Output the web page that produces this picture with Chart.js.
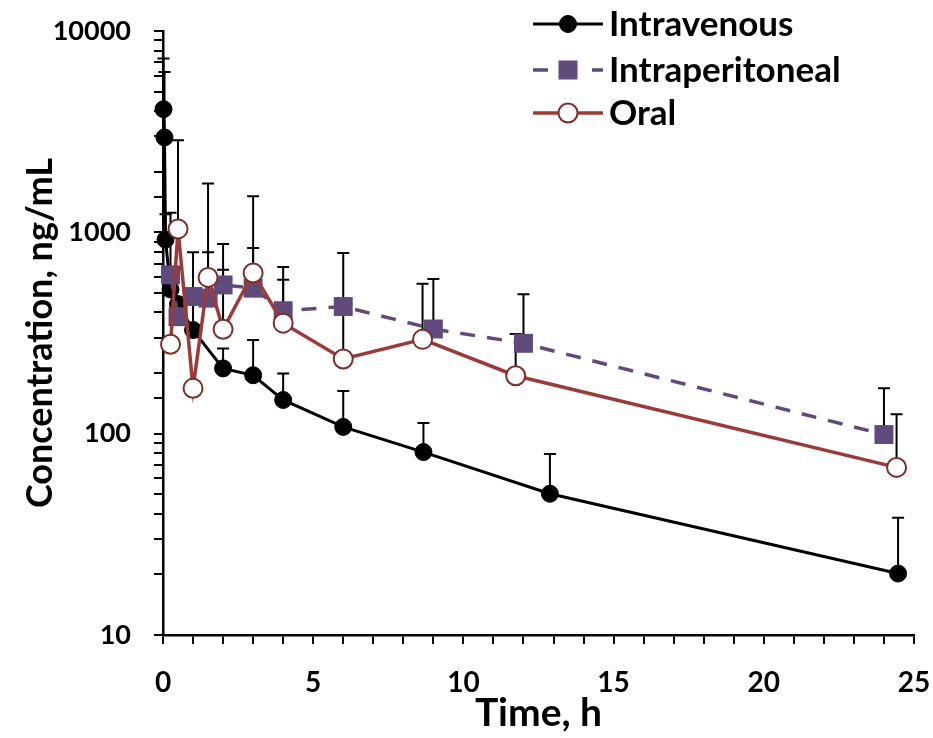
<!DOCTYPE html>
<html>
<head>
<meta charset="utf-8">
<script src="https://cdn.jsdelivr.net/npm/chart.js"></script>
<style>
  html, body { margin: 0; padding: 0; background: #fff; }
  canvas { display: block; }
</style>
</head>
<body>
<canvas id="pkChart" width="933" height="738"></canvas>
<script>
// plasma concentration (ng/mL) vs time (h), mean with upward SD bars
const ivTime = [0.017, 0.05, 0.083, 0.25, 0.5, 1, 2, 3, 4, 6, 8.67, 12.88, 24.47];
const ivConc = [4090, 2960, 920, 520, 440, 327, 211, 195, 147, 108, 81, 50.3, 20.2];
const ivSD   = [3220, 3290, 310, 0, 0, 470, 54, 97, 52, 55, 32, 29, 18];

const ipTime = [0.25, 0.5, 1, 1.5, 2, 3, 4, 6, 9, 12, 24];
const ipConc = [615, 381, 480, 471, 548, 528, 408, 428, 331, 281, 99];
const ipSD   = [635, 0, 0, 326, 103, 308, 173, 0, 255, 212, 69];

const oralTime = [0.25, 0.5, 1, 1.5, 2, 3, 4, 6, 8.64, 11.74, 24.42];
const oralConc = [278, 1040, 168, 597, 330, 628, 354, 235, 294, 194, 68];
const oralSD   = [0, 1830, 0, 1153, 545, 882, 319, 554, 261, 119, 57];

const yLabels = [10, 100, 1000, 10000];
const FONT = "Lato, 'Liberation Sans', sans-serif";

const IV_COLOR = '#000000';
const IP_COLOR = '#604A7B';
const ORAL_COLOR = '#9B3A38';
const ORAL_EDGE = '#7E2D2B';

function points(xs, ys) {
    return xs.map((t, i) => ({ x: t, y: ys[i] }));
}

// SD whiskers, drawn under the markers
const errorBars = {
    id: 'errorBars',
    beforeDatasetsDraw(chart) {
        const sds = [ivSD, ipSD, oralSD];
        const ctx = chart.ctx;
        const xs = chart.scales.x;
        const ys = chart.scales.y;
        ctx.save();
        ctx.strokeStyle = '#000';
        ctx.lineWidth = 2;
        chart.data.datasets.forEach((ds, i) => {
            ds.data.forEach((p, j) => {
                const sd = sds[i][j];
                if (!sd) return;
                const x = xs.getPixelForValue(p.x);
                const y0 = ys.getPixelForValue(p.y);
                const y1 = ys.getPixelForValue(p.y + sd);
                ctx.beginPath();
                ctx.moveTo(x, y0);
                ctx.lineTo(x, y1);
                ctx.moveTo(x - 6, y1);
                ctx.lineTo(x + 6, y1);
                ctx.stroke();
            });
        });
        ctx.restore();
    }
};

// legend sitting inside the plot, top right
const insideLegend = {
    id: 'insideLegend',
    afterDraw(chart) {
        const ctx = chart.ctx;
        const rows = [24, 70, 113];
        const x0 = 533, x1 = 603, xm = 568;
        ctx.save();
        chart.data.datasets.forEach((ds, i) => {
            const y = rows[i];
            ctx.strokeStyle = ds.borderColor;
            ctx.lineWidth = ds.borderWidth;
            ctx.beginPath();
            if (ds.borderDash && ds.borderDash.length) {
                ctx.moveTo(x0, y); ctx.lineTo(x0 + 15, y);
                ctx.moveTo(x1 - 11, y); ctx.lineTo(x1, y);
            } else {
                ctx.moveTo(x0, y); ctx.lineTo(x1, y);
            }
            ctx.stroke();
            if (ds.pointStyle === 'rect') {
                ctx.fillStyle = ds.pointBackgroundColor;
                ctx.fillRect(xm - 9.5, y - 9.5, 19, 19);
            } else {
                ctx.beginPath();
                ctx.arc(xm, y, ds.pointRadius, 0, Math.PI * 2);
                ctx.fillStyle = ds.pointBackgroundColor;
                ctx.fill();
                ctx.lineWidth = ds.pointBorderWidth;
                ctx.strokeStyle = ds.pointBorderColor;
                ctx.stroke();
            }
            ctx.fillStyle = '#000';
            ctx.font = 'bold 35px ' + FONT;
            ctx.textBaseline = 'middle';
            ctx.textAlign = 'left';
            ctx.fillText(ds.label, 609, y + 1);
        });
        ctx.restore();
    }
};

new Chart(document.getElementById('pkChart').getContext('2d'), {
    type: 'scatter',
    data: {
        datasets: [
            {
                label: 'Intravenous',
                data: points(ivTime, ivConc),
                showLine: true,
                borderColor: IV_COLOR,
                borderWidth: 3,
                pointRadius: 8.5,
                pointBackgroundColor: IV_COLOR,
                pointBorderColor: IV_COLOR,
                pointBorderWidth: 1,
                order: 2,
                clip: false
            },
            {
                label: 'Intraperitoneal',
                data: points(ipTime, ipConc),
                showLine: true,
                borderColor: IP_COLOR,
                borderWidth: 3.5,
                borderDash: [15, 12],
                pointStyle: 'rect',
                pointRadius: 13.4,
                pointBackgroundColor: IP_COLOR,
                pointBorderColor: IP_COLOR,
                pointBorderWidth: 0,
                order: 1,
                clip: false
            },
            {
                label: 'Oral',
                data: points(oralTime, oralConc),
                showLine: true,
                borderColor: ORAL_COLOR,
                borderWidth: 3.5,
                pointRadius: 9.5,
                pointBackgroundColor: '#ffffff',
                pointBorderColor: ORAL_EDGE,
                pointBorderWidth: 2,
                order: 0,
                clip: false
            }
        ]
    },
    options: {
        responsive: false,
        animation: false,
        events: [],
        layout: { padding: { top: 31, right: 19, left: 0, bottom: 0 } },
        plugins: {
            legend: { display: false },
            tooltip: { enabled: false }
        },
        scales: {
            x: {
                type: 'linear',
                min: 0,
                max: 25,
                afterFit(scale) {
                    scale.height = 103;
                    scale.paddingLeft = 0;
                    scale.paddingRight = 0;
                },
                border: { display: true, color: '#000', width: 2.5 },
                grid: { drawOnChartArea: false, drawTicks: true, tickLength: 9, color: '#000', lineWidth: 2 },
                ticks: {
                    stepSize: 1,
                    autoSkip: false,
                    maxRotation: 0,
                    padding: 22,
                    color: '#000',
                    font: { family: FONT, size: 28, weight: 'bold' },
                    callback: v => (v % 5 === 0 ? String(v) : '')
                },
                title: {
                    display: true,
                    text: 'Time, h',
                    color: '#000',
                    font: { family: FONT, size: 39, weight: 'bold' },
                    padding: { top: 0, bottom: 1 }
                }
            },
            y: {
                type: 'logarithmic',
                min: 10,
                max: 10000,
                afterFit(scale) {
                    scale.width = 163;
                    scale.paddingTop = 0;
                    scale.paddingBottom = 0;
                },
                border: { display: true, color: '#000', width: 2.5 },
                grid: { drawOnChartArea: false, drawTicks: true, tickLength: 9, color: '#000', lineWidth: 2 },
                ticks: {
                    autoSkip: false,
                    padding: 23,
                    color: '#000',
                    font: { family: FONT, size: 27, weight: 'bold' },
                    callback: v => (yLabels.includes(v) ? String(v) : '')
                },
                title: {
                    display: true,
                    text: 'Concentration, ng/mL',
                    color: '#000',
                    font: { family: FONT, size: 36, weight: 'bold' },
                    padding: { top: 19, bottom: 0 }
                }
            }
        }
    },
    plugins: [errorBars, insideLegend]
});
</script>
</body>
</html>
